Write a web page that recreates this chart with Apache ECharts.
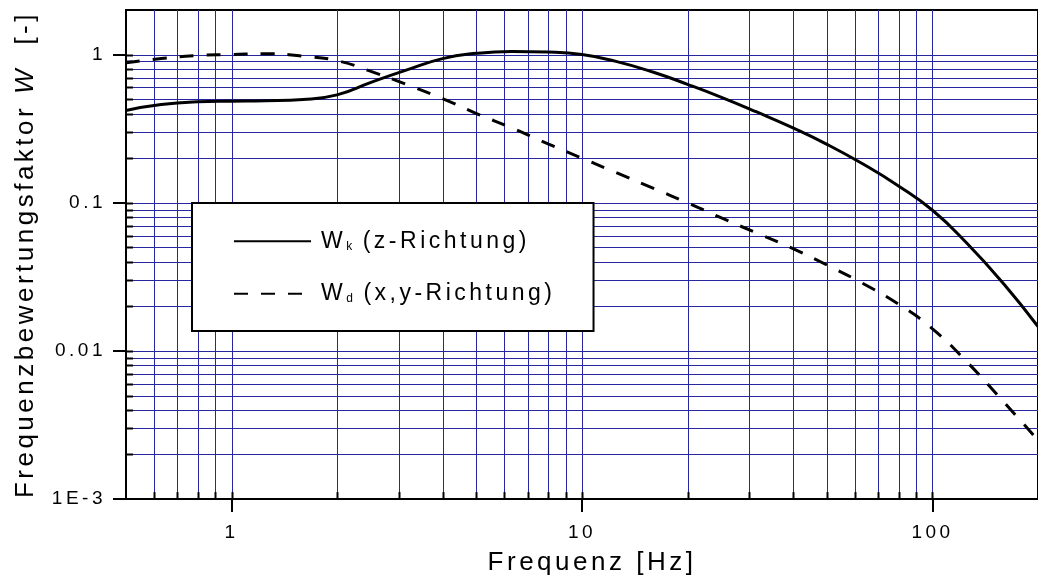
<!DOCTYPE html>
<html><head><meta charset="utf-8">
<script src="https://cdn.jsdelivr.net/npm/echarts@6/dist/echarts.min.js"></script>
<style>html,body{margin:0;padding:0;background:#fff}#main{width:1038px;height:583px}</style>
</head><body><div id="main"></div>
<script>
// ---- data ----
const freq = [0.5,0.63,0.8,1,1.25,1.6,2,2.5,3.15,4,5,6.3,8,10,12.5,16,20,25,31.5,40,50,63,80,100,125,160,200];
const wk   = [0.42,0.46,0.48,0.485,0.488,0.498,0.535,0.65,0.785,0.94,1.02,1.05,1.04,1.0,0.90,0.76,0.63,0.515,0.41,0.32,0.248,0.184,0.13,0.089,0.0537,0.0282,0.0146];
const wd   = [0.88,0.94,0.985,1.0,1.015,0.975,0.91,0.77,0.63,0.505,0.40,0.32,0.25,0.20,0.16,0.125,0.10,0.079,0.0625,0.049,0.038,0.0287,0.0207,0.0141,0.0085,0.0045,0.0025];
const seriesNames = ['Wk (z-Richtung)', 'Wd (x,y-Richtung)'];
const xTickValues = [1, 10, 100];
const xTickLabels = ['1', '10', '100'];
const yTickValues = [0.001, 0.01, 0.1, 1];
const yTickLabels = ['1E-3', '0.01', '0.1', '1'];
const xGridValues = [0.6,0.7,0.8,0.9,1,2,3,4,5,6,7,8,9,10,20,30,40,50,60,70,80,90,100,200];
const yGridValues = [0.002,0.003,0.004,0.005,0.006,0.007,0.008,0.009,0.01,
                     0.02,0.03,0.04,0.05,0.06,0.07,0.08,0.09,0.1,
                     0.2,0.3,0.4,0.5,0.6,0.7,0.8,0.9,1];
const xMin = 0.5, xMax = 200, yMin = 0.001, yMax = 2;

// Origin-style letter tracking for canvas text
const SPACING = '3.5px';
(function(){
  const P = CanvasRenderingContext2D.prototype;
  const f = P.fillText, m = P.measureText, s = P.strokeText;
  P.fillText = function(){ this.letterSpacing = SPACING; return f.apply(this, arguments); };
  P.strokeText = function(){ this.letterSpacing = SPACING; return s.apply(this, arguments); };
  P.measureText = function(){ this.letterSpacing = SPACING; return m.apply(this, arguments); };
})();

const FONT = '"Liberation Sans", Arial, sans-serif';
const GRID_COLOR = '#2626a0';

function lookup(vals, labels, v) {
  for (let i = 0; i < vals.length; i++) {
    if (Math.abs(Math.log10(vals[i]) - Math.log10(v)) < 1e-6) return labels[i];
  }
  return '';
}

const chart = echarts.init(document.getElementById('main'), null, {renderer: 'canvas'});

const option = {
  animation: false,
  backgroundColor: '#fff',
  textStyle: {fontFamily: FONT},
  grid: {left: 126, top: 10, width: 923, height: 490, show: true,
         borderColor: '#000', borderWidth: 2, backgroundColor: 'transparent'},
  xAxis: {
    type: 'log', logBase: 10, min: xMin, max: xMax, z: 5,
    name: 'Frequenz [Hz]', nameLocation: 'middle', nameGap: 49,
    nameTextStyle: {fontSize: 26, color: '#000', fontFamily: FONT, padding: [0, 0, 0, 20]},
    axisLine: {show: true, onZero: false, lineStyle: {color: '#000', width: 2}},
    axisTick: {show: true, customValues: xTickValues, length: 13, lineStyle: {color: '#000', width: 2}},
    axisLabel: {customValues: xTickValues, formatter: v => lookup(xTickValues, xTickLabels, v),
                fontSize: 19, color: '#000', margin: 22, fontFamily: FONT},
    splitLine: {show: false}, minorTick: {show: false}, minorSplitLine: {show: false}
  },
  yAxis: {
    type: 'log', logBase: 10, min: yMin, max: yMax, z: 5,
    name: '{a|Frequenzbewertungsfaktor }{i|W}{a|  [-]}',
    nameLocation: 'middle', nameRotate: 90, nameGap: 80,
    nameTextStyle: {fontSize: 26, color: '#000', fontFamily: FONT,
      rich: {a: {fontSize: 26, color: '#000', fontFamily: FONT},
             i: {fontSize: 26, color: '#000', fontFamily: FONT, fontStyle: 'italic'}}},
    axisLine: {show: true, onZero: false, lineStyle: {color: '#000', width: 2}},
    axisTick: {show: true, customValues: yTickValues, length: 13, lineStyle: {color: '#000', width: 2}},
    axisLabel: {customValues: yTickValues, formatter: v => lookup(yTickValues, yTickLabels, v),
                fontSize: 19, color: '#000', margin: 20, fontFamily: FONT},
    splitLine: {show: false}, minorTick: {show: false}, minorSplitLine: {show: false}
  },
  legend: {
    orient: 'vertical', left: 192, top: 203,
    backgroundColor: '#fff', borderColor: '#000', borderWidth: 2, borderRadius: 0,
    padding: [25, 38, 24, 41], itemWidth: 77, itemHeight: 14, itemGap: 26,
    selectedMode: false, data: seriesNames,
    itemStyle: {opacity: 0, borderWidth: 0},
    formatter: name => name === seriesNames[0]
      ? '{w|W}{s|k}{m|(z-Richtung)}'
      : '{w|W}{s|d}{m|(x,y-Richtung)}',
    textStyle: {color: '#000', fontFamily: FONT, fontSize: 23,
      rich: {
        w: {fontSize: 23, lineHeight: 26, color: '#000', fontFamily: FONT, padding: [0, 0, 0, 5]},
        s: {fontSize: 12, lineHeight: 4, verticalAlign: 'bottom', color: '#000', fontFamily: FONT, padding: [0, 7, 0, 0]},
        m: {fontSize: 23, lineHeight: 26, color: '#000', fontFamily: FONT}
      }}
  },
  series: [
    {
      type: 'custom', name: 'vgrid', silent: true, z: 1, clip: true,
      data: xGridValues.map(v => [v, yMin]),
      renderItem: (params, api) => {
        const v = api.value(0);
        const b = api.coord([v, yMin]);
        const t = api.coord([v, yMax]);
        const x = Math.round(b[0]) + 0.5;
        return {type: 'group', children: [
          {type: 'line', shape: {x1: x, y1: t[1], x2: x, y2: b[1]}, style: {stroke: GRID_COLOR, lineWidth: 1}},
          {type: 'line', shape: {x1: x, y1: b[1], x2: x, y2: b[1] - 7}, style: {stroke: '#000', lineWidth: 2}}
        ]};
      }
    },
    {
      type: 'custom', name: 'hgrid', silent: true, z: 1, clip: true,
      data: yGridValues.map(v => [xMin, v]),
      renderItem: (params, api) => {
        const v = api.value(1);
        const l = api.coord([xMin, v]);
        const r = api.coord([xMax, v]);
        const y = Math.round(l[1]) + 0.5;
        return {type: 'group', children: [
          {type: 'line', shape: {x1: l[0], y1: y, x2: r[0], y2: y}, style: {stroke: GRID_COLOR, lineWidth: 1}},
          {type: 'line', shape: {x1: l[0], y1: y, x2: l[0] + 7, y2: y}, style: {stroke: '#000', lineWidth: 2}}
        ]};
      }
    },
    {
      type: 'line', name: seriesNames[0], z: 3, symbol: 'none', showSymbol: false, smooth: 0.5,
      data: freq.map((f, i) => [f, wk[i]]),
      lineStyle: {color: '#000', width: 3, type: 'solid'},
      itemStyle: {color: '#000'}
    },
    {
      type: 'line', name: seriesNames[1], z: 3, symbol: 'none', showSymbol: false, smooth: 0.5,
      data: freq.map((f, i) => [f, wd[i]]),
      lineStyle: {color: '#000', width: 3, type: [14, 13]},
      itemStyle: {color: '#000'}
    }
  ]
};
chart.setOption(option);
</script>
</body></html>
